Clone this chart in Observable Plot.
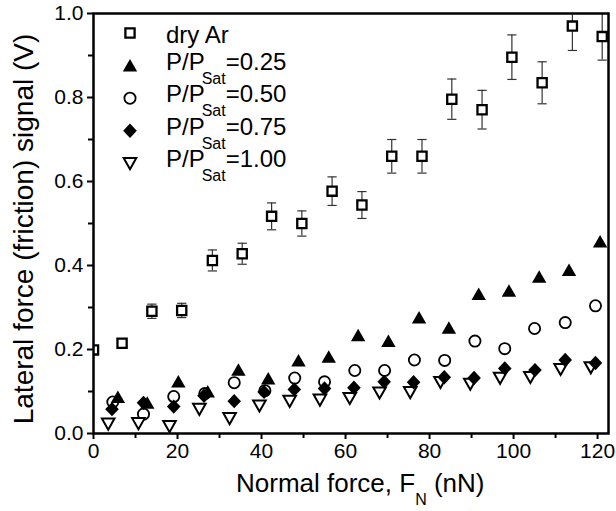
<!DOCTYPE html>
<html><head><meta charset="utf-8">
<script src="https://cdn.jsdelivr.net/npm/d3@7"></script>
<script src="https://cdn.jsdelivr.net/npm/@observablehq/plot@0.6"></script>
<style>
body{margin:0;background:#fff;}
#chart{position:relative;width:616px;height:511px;}
</style></head><body><div id="chart"></div>
<script>
// ---- data ----
const dryArX = [0, 6.8, 13.9, 21.0, 28.3, 35.4, 42.4, 49.6, 56.8, 63.9, 71.0, 78.2, 85.3, 92.5, 99.6, 106.8, 114.0, 121.1];
const dryArY = [0.199, 0.215, 0.291, 0.293, 0.412, 0.428, 0.517, 0.500, 0.577, 0.544, 0.660, 0.660, 0.796, 0.771, 0.896, 0.835, 0.970, 0.945];
const dryArErr = [0, 0, 0.017, 0.017, 0.025, 0.025, 0.032, 0.030, 0.034, 0.032, 0.040, 0.040, 0.048, 0.046, 0.053, 0.050, 0.058, 0.056];

const p25X = [5.8, 12.8, 20.2, 27.2, 34.5, 41.6, 48.8, 56.0, 63.0, 70.2, 77.5, 84.6, 91.7, 98.9, 106.1, 113.2, 120.6];
const p25Y = [0.087, 0.073, 0.124, 0.100, 0.152, 0.131, 0.174, 0.183, 0.234, 0.220, 0.276, 0.252, 0.332, 0.340, 0.373, 0.389, 0.457];

const p50X = [4.6, 11.9, 19.1, 26.5, 33.5, 40.8, 47.9, 55.0, 62.2, 69.3, 76.4, 83.6, 90.8, 97.9, 105.0, 112.3, 119.5];
const p50Y = [0.075, 0.046, 0.088, 0.095, 0.121, 0.102, 0.132, 0.123, 0.150, 0.150, 0.175, 0.174, 0.220, 0.202, 0.250, 0.264, 0.304];

const p75X = [4.4, 11.9, 19.1, 26.3, 33.5, 40.6, 47.8, 55.0, 62.0, 69.2, 76.2, 83.5, 90.6, 97.9, 105.1, 112.3, 119.5];
const p75Y = [0.058, 0.073, 0.064, 0.090, 0.077, 0.099, 0.105, 0.107, 0.109, 0.123, 0.122, 0.134, 0.132, 0.155, 0.151, 0.175, 0.168];

const p100X = [3.5, 10.7, 18.1, 25.2, 32.4, 39.5, 46.7, 53.9, 61.0, 68.1, 75.4, 82.6, 89.7, 96.8, 104.0, 111.2, 118.4];
const p100Y = [0.023, 0.024, 0.017, 0.058, 0.036, 0.066, 0.077, 0.080, 0.084, 0.097, 0.098, 0.122, 0.118, 0.132, 0.134, 0.153, 0.157];

const xTicks = [0, 20, 40, 60, 80, 100, 120];
const xMinor = [10, 30, 50, 70, 90, 110];
const yTicks = [0, 0.2, 0.4, 0.6, 0.8, 1.0];
const yMinor = [0.1, 0.3, 0.5, 0.7, 0.9];

const legendMain = ["dry Ar", "P/P", "P/P", "P/P", "P/P"];
const legendSub = ["", "Sat", "Sat", "Sat", "Sat"];
const legendTail = ["", "=0.25", "=0.50", "=0.75", "=1.00"];

// ---- symbols ----
const symSquare = {draw(c){const h=4.6;c.moveTo(-h,-h);c.lineTo(h,-h);c.lineTo(h,h);c.lineTo(-h,h);c.closePath();}};
const symTriUp = {draw(c){c.moveTo(0,-6.5);c.lineTo(7.2,6);c.lineTo(-7.2,6);c.closePath();}};
const symCircle = {draw(c){const r=5.6;c.moveTo(r,0);c.arc(0,0,r,0,2*Math.PI);c.closePath();}};
const symDiamond = {draw(c){c.moveTo(0,-7.2);c.lineTo(6.8,0);c.lineTo(0,7.2);c.lineTo(-6.8,0);c.closePath();}};
const symTriDown = {draw(c){c.moveTo(0,5.8);c.lineTo(6.3,-5.3);c.lineTo(-6.3,-5.3);c.closePath();}};
const symCap = {draw(c){c.moveTo(-4.6,0);c.lineTo(4.6,0);}};

const zip = (xs, ys) => xs.map((x, i) => ({x, y: ys[i]}));
const dryAr = dryArX.map((x, i) => ({x, y: dryArY[i], err: dryArErr[i]}));
const bars = dryAr.filter(d => d.err > 0);
const caps = bars.flatMap(d => [{x: d.x, y: d.y - d.err}, {x: d.x, y: d.y + d.err}]);

const styles = [
  {symbol: symSquare, fill: "white", stroke: "black", strokeWidth: 2.3},
  {symbol: symTriUp, fill: "black", stroke: "none", strokeWidth: 0},
  {symbol: symCircle, fill: "white", stroke: "black", strokeWidth: 1.8},
  {symbol: symDiamond, fill: "black", stroke: "none", strokeWidth: 0},
  {symbol: symTriDown, fill: "white", stroke: "black", strokeWidth: 2}
];

const W = 616, H = 511;
const mL = 93, mR = 8, mT = 13, mB = 78;

const chart = Plot.plot({
  width: W, height: H,
  marginLeft: mL, marginRight: mR, marginTop: mT, marginBottom: mB,
  x: {domain: [0, 122.6]},
  y: {domain: [0, 1.0]},
  style: {fontFamily: "'Liberation Sans', Arial, sans-serif", fontSize: "21px", color: "black", background: "white"},
  marks: [
    Plot.ruleX(bars, {x: "x", y1: d => d.y - d.err, y2: d => d.y + d.err, stroke: "#333", strokeWidth: 1.2, clip: true}),
    Plot.dot(caps, {x: "x", y: "y", symbol: symCap, stroke: "#333", strokeWidth: 1.2, clip: true}),
    Plot.dot(dryAr, {x: "x", y: "y", ...styles[0], clip: true}),
    Plot.dot(zip(p50X, p50Y), {x: "x", y: "y", ...styles[2], clip: true}),
    Plot.dot(zip(p100X, p100Y), {x: "x", y: "y", ...styles[4], clip: true}),
    Plot.dot(zip(p75X, p75Y), {x: "x", y: "y", ...styles[3], clip: true}),
    Plot.dot(zip(p25X, p25Y), {x: "x", y: "y", ...styles[1], clip: true}),
    Plot.axisX(xMinor, {tickSize: 5, tickFormat: () => "", strokeWidth: 2, label: null}),
    Plot.axisX(xTicks, {tickSize: 6, tickPadding: 4, strokeWidth: 2, fontSize: 21, label: null, tickFormat: d => String(d)}),
    Plot.axisY(yMinor, {tickSize: 5, tickFormat: () => "", strokeWidth: 2, label: null}),
    Plot.axisY(yTicks, {tickSize: 6, tickPadding: 4, strokeWidth: 2, fontSize: 21, label: null, tickFormat: d3.format(".1f")}),
    Plot.frame({stroke: "black", strokeWidth: 2.5})
  ]
});
document.getElementById("chart").appendChild(chart);

const svg = d3.select(chart);
const ff = "'Liberation Sans', Arial, sans-serif";

// axis titles
const xt = svg.append("text").attr("x", 236).attr("y", 492).attr("text-anchor", "start")
  .attr("font-family", ff).attr("font-size", 26).attr("fill", "black");
xt.append("tspan").text("Normal force, F");
xt.append("tspan").attr("font-size", 16).attr("dy", 13).text("N");
xt.append("tspan").attr("font-size", 26).attr("dy", -13).text(" (nN)");

svg.append("text").attr("transform", "translate(33,229) rotate(-90)").attr("text-anchor", "middle")
  .attr("font-family", ff).attr("font-size", 28).attr("fill", "black")
  .text("Lateral force (friction) signal (V)");

// legend
const lg = svg.append("g").attr("text-anchor", "start");
legendMain.forEach((m, i) => {
  const sy = 33 + i * 32.6;
  const p = d3.path();
  styles[i].symbol.draw(p);
  lg.append("path").attr("d", p.toString()).attr("transform", `translate(130,${sy})`)
    .attr("fill", styles[i].fill).attr("stroke", styles[i].stroke).attr("stroke-width", styles[i].strokeWidth);
  const t = lg.append("text").attr("x", 166).attr("y", sy + (i === 0 ? 10 : 4)).attr("text-anchor", "start")
    .attr("font-family", ff).attr("font-size", 24).attr("fill", "black");
  t.append("tspan").text(m);
  if (legendSub[i]) {
    t.append("tspan").attr("font-size", 16).attr("dy", 14).attr("dx", -3).text(legendSub[i]);
    t.append("tspan").attr("font-size", 24).attr("dy", -14).text(legendTail[i]);
  }
});
</script></body></html>
